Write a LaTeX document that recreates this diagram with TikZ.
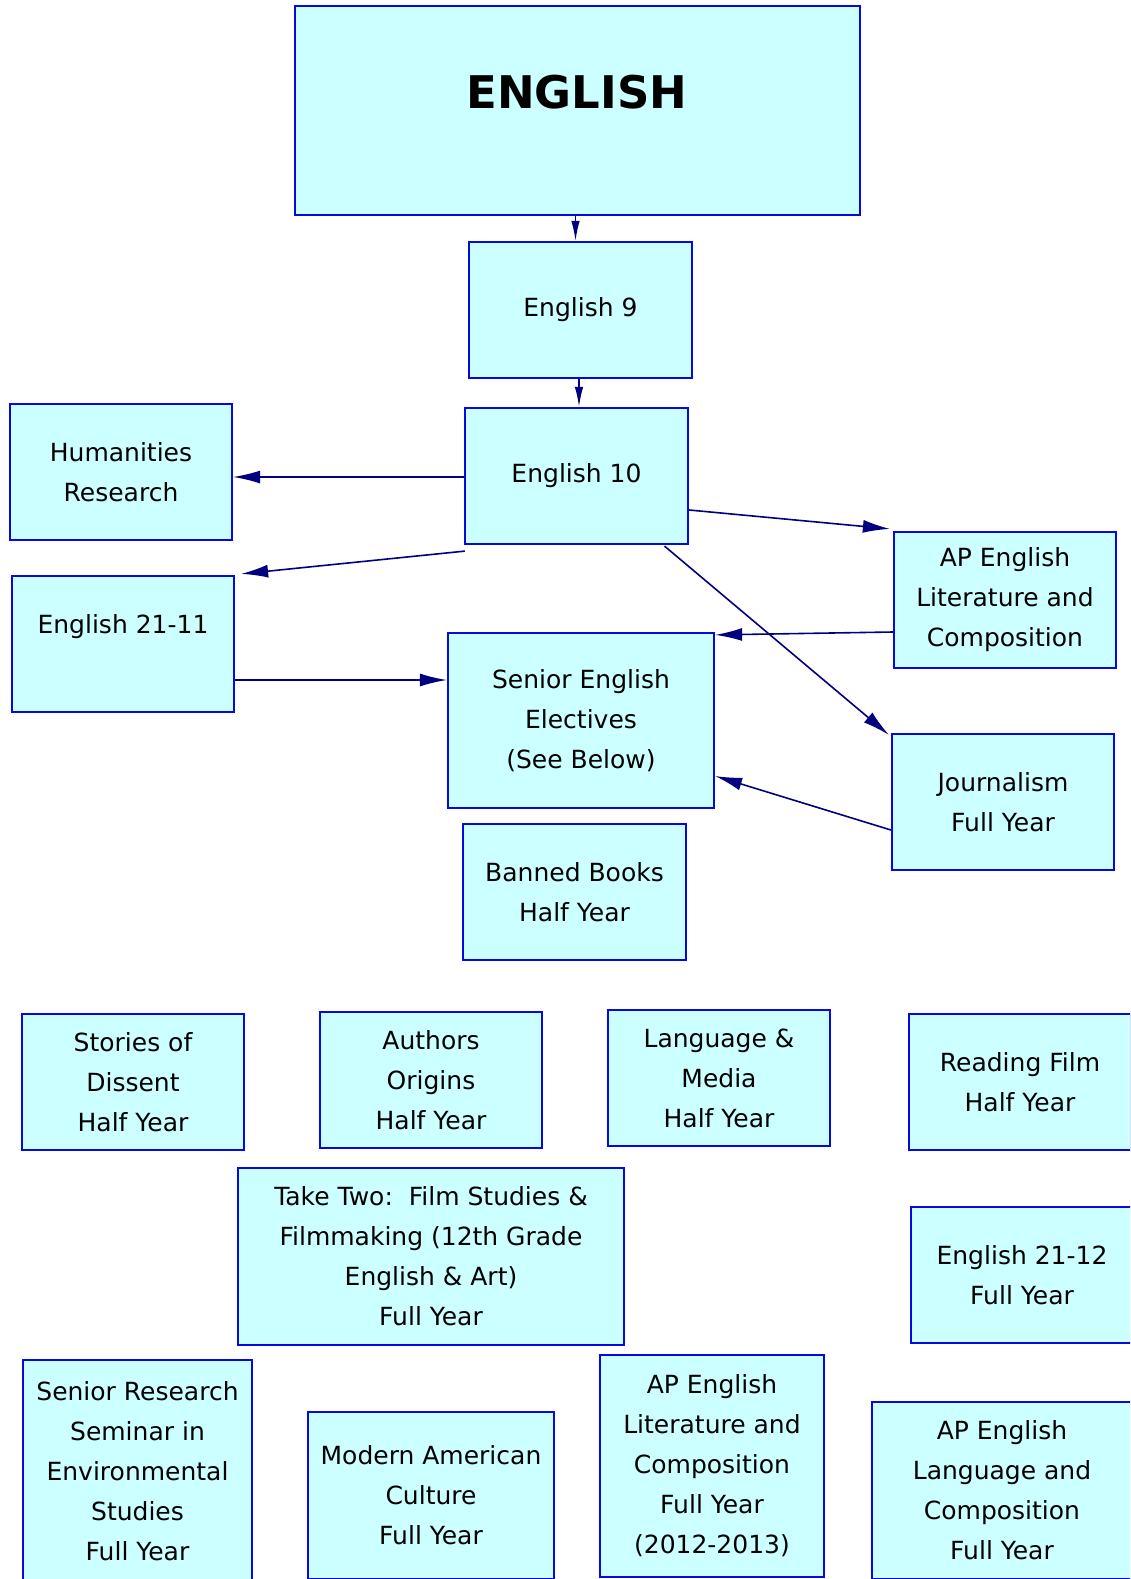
\documentclass[tikz,border=0pt]{standalone}
\usepackage{fontspec}
\setmainfont{DejaVu Sans}
\usetikzlibrary{arrows.meta,calc}
\definecolor{boxfill}{RGB}{204,255,255}
\definecolor{boxline}{RGB}{8,8,225}
\definecolor{arrowcol}{RGB}{0,0,128}
\begin{document}
\begin{tikzpicture}[x=1pt,y=-1pt,
  box/.style={draw=boxline,fill=boxfill,line width=2.2pt,inner sep=0pt,align=center,
    font=\fontsize{25}{40}\selectfont,minimum width=222pt,minimum height=136pt},
  conn/.style={draw=arrowcol,line width=1.6pt,-{Latex[length=27pt,width=13pt]}},
  connsmall/.style={draw=arrowcol,line width=1.6pt,-{Latex[length=20pt,width=8.5pt]}}]
\useasboundingbox (0,0) rectangle (1130,1579);
\fill[white] (0,0) rectangle (1130,1579);
\clip (0,0) rectangle (1130,1579);
\node[box,minimum width=565pt,minimum height=209pt] (english) at (577.5,110.5) {};
\node[font=\fontsize{45}{50}\selectfont\bfseries] (englishlabel) at (577,92) {ENGLISH};
\node[box,minimum width=223pt] (e9) at (580.5,310) {English 9};
\node[box,minimum width=223pt] (e10) at (576.5,476) {English 10};
\node[box] (hum) at (121,472) {Humanities\\Research};
\node[box] (e2111) at (123,644) {English 21-11\\[0pt]~};
\node[box] (aplit) at (1005,600) {AP English\\Literature and\\Composition};
\node[box,minimum width=266pt,minimum height=175pt] (senior) at (581,720.5) {Senior English\\Electives\\(See Below)};
\node[box] (journ) at (1003,802) {Journalism\\Full Year};
\node[box,minimum width=223pt] (banned) at (574.5,892) {Banned Books\\Half Year};
\node[box] (stories) at (133,1082) {Stories of\\Dissent\\Half Year};
\node[box] (authors) at (431,1080) {Authors\\Origins\\Half Year};
\node[box] (lang) at (719,1078) {Language \&\\Media\\Half Year};
\node[box] (film) at (1020,1082) {Reading Film\\Half Year};
\node[box,minimum width=386pt,minimum height=177pt] (taketwo) at (431,1256.5) {Take Two:\ \ Film Studies \&\\Filmmaking (12th Grade\\English \& Art)\\Full Year};
\node[box] (e2112) at (1022,1275) {English 21-12\\Full Year};
\node[box,minimum width=229pt,minimum height=222pt] (seminar) at (137.5,1471) {Senior Research\\Seminar in\\Environmental\\Studies\\Full Year};
\node[box,minimum width=246pt,minimum height=167pt] (modern) at (431,1495.5) {Modern American\\Culture\\Full Year};
\node[box,minimum width=224pt,minimum height=222pt] (aplitfull) at (712,1466) {AP English\\Literature and\\Composition\\Full Year\\(2012-2013)};
\node[box,minimum width=260pt,minimum height=177pt] (aplang) at (1002,1490.5) {AP English\\Language and\\Composition\\Full Year};
% connectors
\draw[connsmall] ($(english.south)+(-2,0)$) -- ($(english.south |- e9.north)+(-2,0)$);
\draw[connsmall] ($(e9.south)+(-1.5,0)$) -- ($(e9.south |- e10.north)+(-1.5,0)$);
\draw[conn] ($(e10.west)+(0,1)$) -- ($(e10.west -| hum.east)+(0,1)$);
\draw[conn] ($(e10.south west)+(1,6)$) -- ($(e2111.north east)+(6,-1)$);
\draw[conn] ($(e10.east)+(0,34)$) -- ($(aplit.north west)+(-3,-2)$);
\draw[conn] ($(e10.south)+(88,1)$) -- ($(journ.north west)+(-2,2)$);
\draw[conn] ($(aplit.west)+(0,32)$) -- ($(senior.north east)+(0,3)$);
\draw[conn] ($(journ.west)+(0,28)$) -- ($(senior.east)+(0,55.5)$);
\draw[conn] ($(e2111.east)+(0,36)$) -- ($(senior.west)+(0,-40.5)$);
\end{tikzpicture}
\end{document}
